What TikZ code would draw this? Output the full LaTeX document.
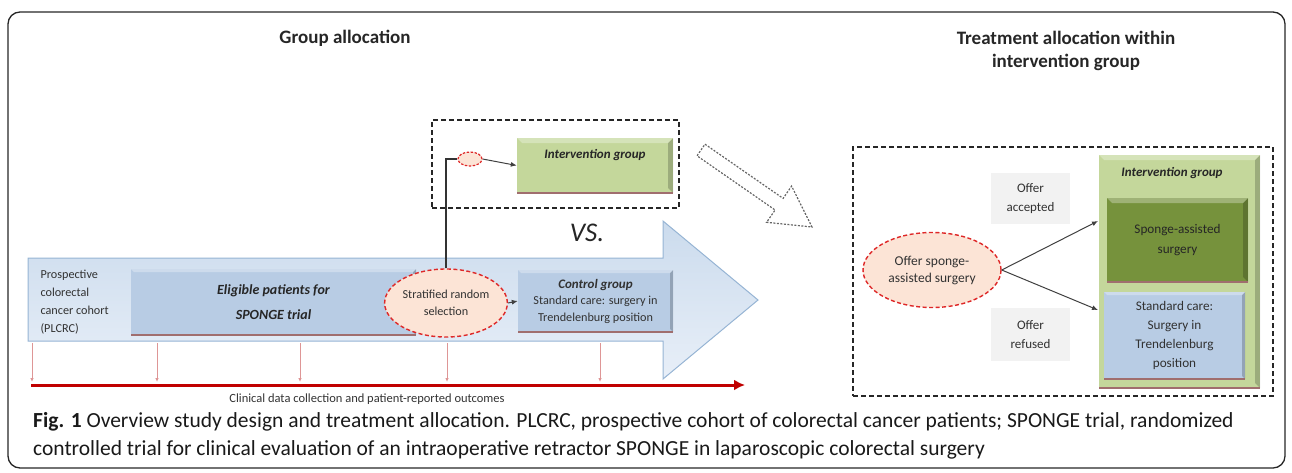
\documentclass[tikz,border=0pt]{standalone}
\usepackage{fontspec}
\setmainfont{Carlito}
\usetikzlibrary{shapes.geometric, calc, arrows.meta}

\definecolor{txtgray}{RGB}{50,50,50}
\definecolor{arrowtop}{RGB}{203,219,237}
\definecolor{arrowbottom}{RGB}{232,239,248}
\definecolor{arrowedge}{RGB}{150,180,212}
\definecolor{boxblue}{RGB}{184,204,228}
\definecolor{peach}{RGB}{252,228,214}
\definecolor{dashred}{RGB}{222,40,40}
\definecolor{lightgreen}{RGB}{196,215,155}
\definecolor{darkgreen}{RGB}{118,146,60}
\definecolor{timered}{RGB}{192,0,0}
\definecolor{tickpink}{RGB}{222,150,150}
\definecolor{shadowred}{RGB}{160,110,110}
\definecolor{labelgray}{RGB}{242,242,242}

\tikzset{
  bevel/.style={path picture={
    \fill[black, opacity=.2] (path picture bounding box.north east) -- (path picture bounding box.south east)
      -- ([shift={(-#1,-#1)}]path picture bounding box.south east) -- ([shift={(-#1,#1)}]path picture bounding box.north east) -- cycle;
    \fill[white, opacity=.3] (path picture bounding box.north west) -- (path picture bounding box.north east)
      -- ([shift={(-#1,#1)}]path picture bounding box.north east) -- ([shift={(#1,#1)}]path picture bounding box.north west) -- cycle;
    \draw[shadowred, line width=1.6pt] (path picture bounding box.south west) -- (path picture bounding box.south east);
  }},
  title/.style={font=\fontsize{19}{23}\selectfont\bfseries, text=black!85, align=center},
  bluebox/.style={rectangle, fill=boxblue, inner sep=0pt, align=center, bevel=3},
  greenbox/.style={rectangle, fill=lightgreen, inner sep=0pt, align=center, bevel=5},
  oval/.style={ellipse, draw=dashred, line width=1.4pt, dash pattern=on 4pt off 2.5pt, fill=peach, inner sep=0pt, align=center},
  frame/.style={rectangle, draw=black!85, line width=1.4pt, dash pattern=on 5pt off 3pt, inner sep=0pt},
  offerlabel/.style={rectangle, fill=labelgray, inner sep=0pt, align=center, font=\fontsize{13}{19}\selectfont},
  boldlabel/.style={font=\fontsize{13}{15}\selectfont\bfseries\itshape, text=black!85},
  captionline/.style={anchor=base west, inner sep=0pt, font=\fontsize{21.5}{26}\selectfont, text=black!90},
  link/.style={-{Latex[length=6pt,width=5pt]}, draw=black!75, line width=1pt},
  wire/.style={draw=black!80, line width=1.1pt},
  timeline/.style={-{Latex[length=11pt,width=11pt]}, draw=timered, line width=3pt},
  tick/.style={-{Latex[length=4pt,width=3.5pt]}, draw=tickpink, line width=.8pt},
  hollow/.style={draw=black!60, line width=1.2pt, dash pattern=on 2pt off 1.5pt},
}

\begin{document}
\begin{tikzpicture}[x=1pt, y=-1pt, font=\fontsize{12.2}{16.5}\selectfont, text=txtgray]
\useasboundingbox (0,0) rectangle (1292,472);

% Outer frame
\draw[rounded corners=12pt, line width=1.3pt, draw=black!85] (8,12) rectangle (1285,468);

% Titles
\node[title] (ttlleft) at (345,38) {Group allocation};
\node[title] (ttlright) at (1066,51) {Treatment allocation within\\intervention group};

% Big arrow
\draw[top color=arrowtop, bottom color=arrowbottom, draw=arrowedge, line width=1pt]
  (28,258) -- (663,258) -- (663,221) -- (758,300) -- (663,379) -- (663,341) -- (28,341) -- cycle;

% Time line with ticks
\coordinate (tl0) at (31,385);
\coordinate (tl1) at (745,385);
\draw[timeline] (tl0) -- (tl1);
\foreach \x in {32,157,300,447,600}
  \draw[tick] (\x,343) -- (\x,382);
\node[font=\fontsize{12.5}{14}\selectfont] (tltext) at (367,399) {Clinical data collection and patient-reported outcomes};

% Steps on the arrow
\node[anchor=west, align=left, font=\fontsize{12.2}{18}\selectfont] (cohort) at (37,302) {Prospective\\colorectal\\cancer cohort\\(PLCRC)};
\node[bluebox, minimum width=285, minimum height=66, font=\fontsize{14}{25}\selectfont\bfseries\itshape, text=black!85] (elig) at (273.5,302) {Eligible patients for\\SPONGE trial};
\node[oval, minimum width=104, minimum height=68, font=\fontsize{12.2}{17}\selectfont] (strat) at (446,303) {Stratified random\\selection};
\node[bluebox, minimum width=155, minimum height=62] (ctrl) at (595.5,301) {\textbf{\textit{\fontsize{13}{16.5}\selectfont Control group}}\\Standard care: surgery in\\Trendelenburg position};

% Intervention branch
\node[frame, minimum width=247, minimum height=88] (topframe) at (555.5,164) {};
\node[greenbox, minimum width=156, minimum height=55] (intv) at (595,165.5) {};
\node[boldlabel] (intvtext) at (595,155) {Intervention group};
\node[oval, minimum width=24, minimum height=14, line width=1.2pt, dash pattern=on 2.5pt off 1.5pt] (tiny) at (470,159) {};
\draw[wire] (strat.north) |- (tiny.west);
\draw[link] (tiny.east) -- (intv.west);
\draw[link] (strat.east) -- (ctrl.west);

\node[font=\fontsize{27}{30}\selectfont\itshape, text=black!85] (vs) at (587,233) {VS.};

% Hollow dashed arrow to the right panel
\draw[hollow] (705,144.2) -- (783.1,198.4) -- (791.6,186.1) -- (812,227) -- (766.6,222.3) -- (775.1,210) -- (697,155.8) -- cycle;

% Right panel
\node[frame, minimum width=420, minimum height=249] (rightframe) at (1063,271.5) {};
\node[greenbox, minimum width=161, minimum height=233] (cont) at (1179.5,271.5) {};
\node[boldlabel] (conttext) at (1172,173) {Intervention group};
\node[greenbox, fill=darkgreen, minimum width=141, minimum height=84, font=\fontsize{13.2}{20}\selectfont, text=black!85] (sponge) at (1177.5,240) {Sponge-assisted\\surgery};
\node[bluebox, minimum width=141, minimum height=87, font=\fontsize{13.2}{19.3}\selectfont] (stdcare) at (1174.5,335.5) {Standard care:\\Surgery in\\Trendelenburg\\position};
\node[offerlabel, minimum width=79, minimum height=51] (accepted) at (1030.5,198.5) {Offer\\accepted};
\node[offerlabel, minimum width=79, minimum height=53] (refused) at (1030.5,334.5) {Offer\\refused};
\node[oval, minimum width=138, minimum height=75, font=\fontsize{13.5}{17}\selectfont] (offer) at (932,270) {Offer sponge-\\assisted surgery};
\coordinate (toaccept) at (1098,221);
\coordinate (torefuse) at (1098,310);
\draw[link] (offer.east) -- (toaccept);
\draw[link] (offer.east) -- (torefuse);

% Caption
\node[captionline] (caption1) at (33,427) {\textbf{Fig. 1} Overview study design and treatment allocation. PLCRC, prospective cohort of colorectal cancer patients; SPONGE trial, randomized};
\node[captionline] (caption2) at (33,455) {controlled trial for clinical evaluation of an intraoperative retractor SPONGE in laparoscopic colorectal surgery};
\end{tikzpicture}
\end{document}
